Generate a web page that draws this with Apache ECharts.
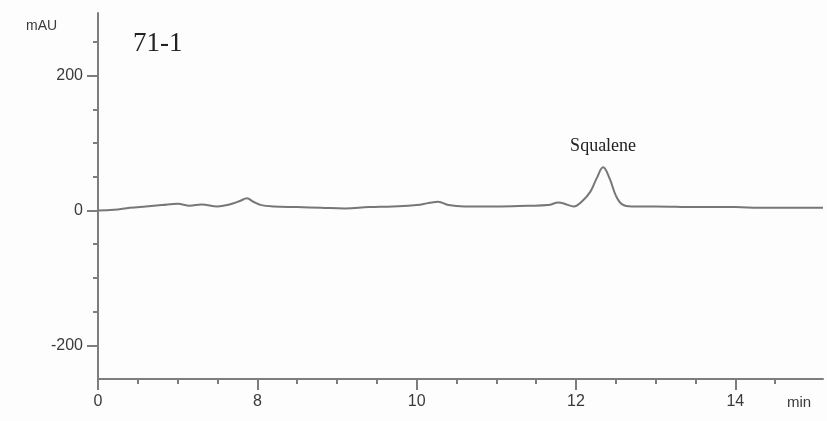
<!DOCTYPE html>
<html>
<head>
<meta charset="utf-8">
<script src="https://cdn.jsdelivr.net/npm/echarts@6/dist/echarts.min.js"></script>
<style>
  html, body { margin: 0; padding: 0; background: #fdfdfd; }
  #main { width: 827px; height: 421px; }
</style>
</head>
<body>
<div id="main"></div>
<script>
// retention time (min) and absorbance (mAU)
var times = [6.0, 6.2, 6.4, 6.6, 6.8, 7.0, 7.15, 7.3, 7.5, 7.65, 7.78, 7.87, 7.95, 8.05, 8.2, 8.5, 8.8, 9.1, 9.4, 9.7, 10.0, 10.15, 10.27, 10.4, 10.6, 11.0, 11.4, 11.65, 11.78, 11.88, 11.97, 12.08, 12.18, 12.26, 12.34, 12.42, 12.5, 12.58, 12.7, 13.0, 13.5, 13.8, 14.0, 14.3, 14.6, 15.0, 15.1];
var values = [0, 1, 4, 6, 8, 10, 7, 9, 6, 9, 14, 18, 13, 8, 6, 5, 4, 3, 5, 6, 8, 11, 13, 8, 6, 6, 7, 8, 12, 9, 6, 14, 28, 48, 64, 48, 22, 9, 6, 6, 5, 5, 5, 4, 4, 4, 4];

var xMajor = [6, 8, 10, 12, 14];
var xLabels = ['0', '8', '10', '12', '14'];
var xMinor = [6.5, 7, 7.5, 8.5, 9, 9.5, 10.5, 11, 11.5, 12.5, 13, 13.5, 14.5];
var yMajor = [-200, 0, 200];
var yMinor = [-150, -100, -50, 50, 100, 150, 250];

var peakName = 'Squalene';
var peakTime = 12.34;
var peakValue = 64;

var el = document.getElementById('main');
var myChart = echarts.init(el);

var axisColor = '#7d7d7d';
var textColor = '#3a3a3a';

function labelFor(v) {
    var i = xMajor.indexOf(v);
    return i >= 0 ? xLabels[i] : '';
}

myChart.setOption({
    backgroundColor: '#fdfdfd',
    animation: false,
    grid: { left: 98, right: 4, top: 13, bottom: 42 },
    xAxis: [{
        type: 'value',
        min: 6,
        max: 15.1,
        axisLine: { show: true, onZero: false, lineStyle: { color: axisColor, width: 2 } },
        axisTick: { show: true, customValues: xMajor, length: 11, lineStyle: { color: axisColor, width: 2 } },
        axisLabel: {
            customValues: xMajor,
            formatter: labelFor,
            margin: 15,
            color: textColor,
            fontSize: 16,
            fontFamily: 'Liberation Sans'
        },
        splitLine: { show: false }
    }, {
        type: 'value',
        min: 6,
        max: 15.1,
        position: 'bottom',
        axisLine: { show: false, onZero: false },
        axisTick: { show: true, customValues: xMinor, length: 5, lineStyle: { color: axisColor, width: 2 } },
        axisLabel: { show: false },
        splitLine: { show: false }
    }],
    yAxis: [{
        type: 'value',
        min: -250,
        max: 293,
        axisLine: { show: true, onZero: false, lineStyle: { color: axisColor, width: 2 } },
        axisTick: { show: true, customValues: yMajor, length: 11, lineStyle: { color: axisColor, width: 2 } },
        axisLabel: {
            customValues: yMajor,
            margin: 15,
            color: textColor,
            fontSize: 16,
            fontFamily: 'Liberation Sans'
        },
        splitLine: { show: false }
    }, {
        type: 'value',
        min: -250,
        max: 293,
        position: 'left',
        axisLine: { show: false, onZero: false },
        axisTick: { show: true, customValues: yMinor, length: 5, lineStyle: { color: axisColor, width: 2 } },
        axisLabel: { show: false },
        splitLine: { show: false }
    }],
    graphic: [
        { type: 'text', left: 26, top: 19, style: { text: 'mAU', fontSize: 14, fill: textColor, fontFamily: 'Liberation Sans' } },
        { type: 'text', left: 787, top: 395, style: { text: 'min', fontSize: 15, fill: textColor, fontFamily: 'Liberation Sans' } },
        { type: 'text', left: 133, top: 30, style: { text: '71-1', fontSize: 27, fill: '#222', fontFamily: 'Liberation Serif' } }
    ],
    series: [{
        type: 'line',
        xAxisIndex: 0,
        yAxisIndex: 0,
        data: times.map(function (t, i) { return [t, values[i]]; }),
        smooth: 0.4,
        symbol: 'none',
        lineStyle: { color: '#777', width: 2 },
        markPoint: {
            symbol: 'circle',
            symbolSize: 0,
            label: {
                show: true,
                position: 'top',
                distance: 12,
                formatter: peakName,
                color: '#222',
                fontSize: 18,
                fontFamily: 'Liberation Serif'
            },
            data: [{ coord: [peakTime, peakValue] }]
        }
    }]
});
</script>
</body>
</html>
